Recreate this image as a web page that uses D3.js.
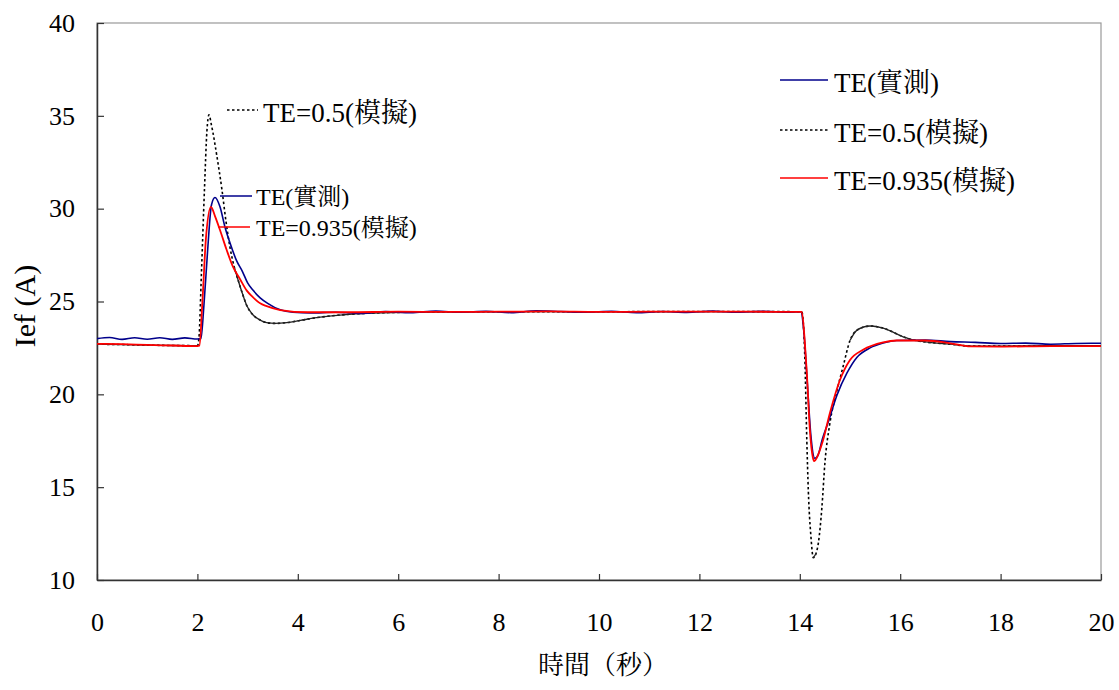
<!DOCTYPE html>
<html>
<head>
<meta charset="utf-8">
<script src="https://cdn.jsdelivr.net/npm/d3@7"></script>
<style>
  body { margin: 0; background: #fff; }
  text { font-family: "Liberation Serif", "Times New Roman", "Noto Serif CJK TC", "Noto Sans CJK TC", serif; }
</style>
</head>
<body>
<script>
// 資料: [時間(秒), Ief(A)]
const measured = [
  [0, 23.0], [0.25, 23.06], [0.5, 22.96], [0.75, 23.05], [1.0, 22.97], [1.25, 23.05], [1.5, 22.96],
  [1.75, 23.04], [2.0, 22.98], [2.07, 23.0], [2.13, 24.8], [2.2, 27.6], [2.28, 30.2], [2.35, 30.6],
  [2.45, 30.1], [2.55, 29.0], [2.65, 28.15], [2.78, 27.2], [2.9, 26.6], [3.0, 26.0], [3.11, 25.6],
  [3.25, 25.2], [3.4, 24.9], [3.65, 24.55], [3.9, 24.42], [4.25, 24.38], [4.75, 24.42], [5.25, 24.36],
  [5.75, 24.46], [6.25, 24.4], [6.75, 24.48], [7.25, 24.42], [7.75, 24.47], [8.25, 24.4], [8.75, 24.5],
  [9.25, 24.46], [9.75, 24.42], [10.25, 24.47], [10.75, 24.4], [11.25, 24.46], [11.75, 24.41],
  [12.25, 24.48], [12.75, 24.42], [13.25, 24.47], [13.75, 24.42], [14.02, 24.45], [14.08, 23.4],
  [14.15, 20.6], [14.22, 17.8], [14.3, 16.55], [14.36, 16.7], [14.45, 17.6], [14.56, 18.45],
  [14.74, 19.95], [14.94, 21.15], [15.14, 22.0], [15.4, 22.5], [15.66, 22.76], [15.93, 22.9],
  [16.5, 22.92], [17.0, 22.84], [17.5, 22.8], [18.0, 22.74], [18.5, 22.76], [19.0, 22.7],
  [19.5, 22.74], [20.0, 22.75]
];

const te0935 = [
  [0, 22.72], [0.5, 22.7], [1.0, 22.66], [1.5, 22.63], [2.0, 22.6], [2.04, 22.62], [2.1, 25.0],
  [2.17, 28.4], [2.27, 30.1], [2.35, 29.6], [2.45, 28.85], [2.58, 27.8], [2.71, 26.86], [2.85, 26.2],
  [2.98, 25.6], [3.1, 25.25], [3.25, 24.9], [3.38, 24.75], [3.65, 24.54], [4.2, 24.42], [5.0, 24.42],
  [6.0, 24.45], [7.0, 24.44], [8.0, 24.45], [9.0, 24.47], [10.0, 24.44], [11.0, 24.45], [12.0, 24.46],
  [13.0, 24.45], [14.04, 24.44], [14.1, 22.8], [14.14, 21.15], [14.2, 18.1], [14.26, 16.6],
  [14.29, 16.4], [14.34, 16.6], [14.46, 17.5], [14.6, 19.0], [14.8, 20.77], [15.0, 21.85],
  [15.26, 22.4], [15.66, 22.8], [15.93, 22.9], [16.5, 22.9], [17.0, 22.75], [17.4, 22.58],
  [18.0, 22.57], [19.0, 22.6], [20.0, 22.6]
];

const te05 = [
  [0, 22.7], [0.5, 22.68], [1.0, 22.65], [1.5, 22.63], [2.0, 22.62], [2.03, 23.0], [2.08, 26.5],
  [2.14, 31.0], [2.19, 34.2], [2.23, 35.05], [2.28, 34.5], [2.39, 32.8], [2.49, 31.0], [2.57, 29.3],
  [2.65, 27.9], [2.73, 26.9], [2.81, 26.16], [2.9, 25.4], [2.98, 24.8], [3.1, 24.3], [3.25, 24.0],
  [3.38, 23.86], [3.55, 23.82], [3.78, 23.86], [4.05, 23.98], [4.3, 24.1], [4.84, 24.27],
  [5.5, 24.38], [6.5, 24.43], [8.0, 24.45], [10.0, 24.45], [12.0, 24.46], [14.04, 24.45],
  [14.1, 22.0], [14.14, 17.5], [14.17, 14.8], [14.22, 12.4], [14.27, 11.2], [14.32, 11.4],
  [14.37, 12.0], [14.44, 13.9], [14.5, 16.3], [14.6, 18.45], [14.74, 20.2], [14.86, 21.47],
  [15.0, 22.9], [15.14, 23.46], [15.4, 23.68], [15.66, 23.57], [16.06, 23.1], [16.25, 22.93],
  [17.0, 22.7], [17.4, 22.6], [18.0, 22.6], [19.0, 22.62], [20.0, 22.62]
];

const xTicks = [0, 2, 4, 6, 8, 10, 12, 14, 16, 18, 20];
const yTicks = [10, 15, 20, 25, 30, 35, 40];
const seriesNames = ["TE(實測)", "TE=0.5(模擬)", "TE=0.935(模擬)"];

// 點線在變化緩慢處看起來像實線 (取樣點密集)
function slowRuns(data, maxSlope) {
  const runs = [];
  let cur = null;
  for (let i = 1; i < data.length; i++) {
    const slope = Math.abs((data[i][1] - data[i - 1][1]) / (data[i][0] - data[i - 1][0]));
    if (slope < maxSlope) {
      if (!cur) { cur = [data[i - 1]]; runs.push(cur); }
      cur.push(data[i]);
    } else {
      cur = null;
    }
  }
  return runs;
}

function renderChart() {
  const width = 1119, height = 690;
  const margin = { top: 23, right: 18, bottom: 110, left: 97 };

  const x = d3.scaleLinear().domain([0, 20]).range([margin.left, width - margin.right]);
  const y = d3.scaleLinear().domain([10, 40]).range([height - margin.bottom, margin.top]);

  const svg = d3.select("body").append("svg")
    .attr("width", width)
    .attr("height", height);

  // 外框 (上、右為灰色)
  svg.append("rect")
    .attr("x", x(0)).attr("y", y(40))
    .attr("width", x(20) - x(0)).attr("height", y(10) - y(40))
    .attr("fill", "none").attr("stroke", "#999").attr("stroke-width", 1.2);

  // 座標軸 (刻度向內)
  const xAxis = svg.append("g")
    .attr("transform", `translate(0,${y(10)})`)
    .call(d3.axisBottom(x).tickValues(xTicks).tickSizeInner(-6).tickSizeOuter(0).tickPadding(33));
  const yAxis = svg.append("g")
    .attr("transform", `translate(${x(0)},0)`)
    .call(d3.axisLeft(y).tickValues(yTicks).tickSizeInner(-7).tickSizeOuter(0).tickPadding(22));

  [xAxis, yAxis].forEach(g => {
    g.select(".domain").attr("stroke", "#333").attr("stroke-width", 1.5);
    g.selectAll(".tick line").attr("stroke", "#333").attr("stroke-width", 1.2);
    g.selectAll(".tick text")
      .attr("font-size", "26px")
      .attr("fill", "#000")
      .style("font-family", '"Liberation Serif", serif');
  });

  // 軸標題
  svg.append("text")
    .attr("x", 603).attr("y", 674)
    .attr("text-anchor", "middle")
    .attr("font-size", "26px")
    .text("時間（秒）");

  svg.append("text")
    .attr("transform", `translate(35,306) rotate(-90)`)
    .attr("text-anchor", "middle")
    .attr("font-size", "30px")
    .style("font-family", '"Liberation Serif", serif')
    .text("Ief (A)");

  // 曲線
  const line = d3.line()
    .x(d => x(d[0]))
    .y(d => y(d[1]))
    .curve(d3.curveMonotoneX);

  const styles = [
    { data: te05, color: "#000", width: 1.6, dash: "2.5,2.5" },
    { data: measured, color: "#00008b", width: 1.6, dash: null },
    { data: te0935, color: "#ff0000", width: 1.8, dash: null }
  ];

  styles.forEach((s, i) => {
    svg.append("path")
      .datum(s.data)
      .attr("d", line)
      .attr("fill", "none")
      .attr("stroke", s.color)
      .attr("stroke-width", s.width)
      .attr("stroke-dasharray", s.dash);
    if (i === 0) {
      svg.selectAll("path.slow")
        .data(slowRuns(te05, 9.5))
        .enter()
        .append("path")
        .attr("class", "slow")
        .attr("d", line)
        .attr("fill", "none")
        .attr("stroke", "#222")
        .attr("stroke-width", 1.3);
    }
  });

  // 圖中標註
  const notes = [
    { text: seriesNames[1], x1: 227, x2: 258, ly: 110, tx: 263, ty: 122, color: "#000", dash: "2.5,2.5", size: 27 },
    { text: seriesNames[0], x1: 220, x2: 252, ly: 196, tx: 256, ty: 205, color: "#00008b", dash: null, size: 24 },
    { text: seriesNames[2], x1: 218, x2: 250, ly: 227, tx: 256, ty: 236, color: "#ff0000", dash: null, size: 24 }
  ];
  notes.forEach(n => {
    svg.append("line")
      .attr("x1", n.x1).attr("x2", n.x2).attr("y1", n.ly).attr("y2", n.ly)
      .attr("stroke", n.color).attr("stroke-width", 1.5)
      .attr("stroke-dasharray", n.dash);
    svg.append("text")
      .attr("x", n.tx).attr("y", n.ty)
      .attr("font-size", n.size + "px")
      .text(n.text);
  });

  // 圖例
  const legend = [
    { text: seriesNames[0], y: 80, color: "#00008b", dash: null },
    { text: seriesNames[1], y: 130, color: "#000", dash: "2.5,2.5" },
    { text: seriesNames[2], y: 178, color: "#ff0000", dash: null }
  ];
  legend.forEach(l => {
    svg.append("line")
      .attr("x1", 780).attr("x2", 828).attr("y1", l.y).attr("y2", l.y)
      .attr("stroke", l.color).attr("stroke-width", 1.5)
      .attr("stroke-dasharray", l.dash);
    svg.append("text")
      .attr("x", 834).attr("y", l.y + 12)
      .attr("font-size", "27px")
      .text(l.text);
  });
}

window.addEventListener("load", function () {
  requestAnimationFrame(renderChart);
});
</script>
</body>
</html>
